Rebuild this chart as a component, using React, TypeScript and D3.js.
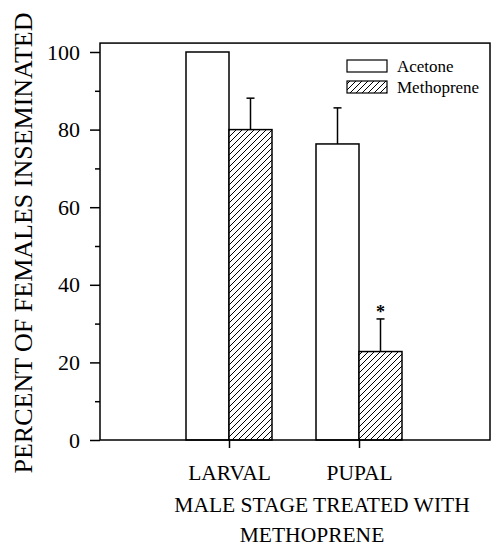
import React, { useEffect, useRef } from 'react';
import * as d3 from 'd3';

// Data
const stages = ['LARVAL', 'PUPAL'];
const treatments = ['Acetone', 'Methoprene'];
const acetoneValues = [100, 76.3];
const acetoneErrors = [0, 9.3];
const methopreneValues = [80, 22.8];
const methopreneErrors = [8.1, 8.4];
const significant = [false, true]; // asterisk over methoprene bar
const yTicks = [0, 20, 40, 60, 80, 100];
const yMinorTicks = [10, 30, 50, 70, 90];

const App: React.FC = () => {
    const ref = useRef<SVGSVGElement>(null);

    useEffect(() => {
        const svg = d3.select(ref.current);
        svg.selectAll('*').remove();

        const width = 498;
        const height = 554;
        const font = '"Liberation Serif", "Times New Roman", serif';

        const left = 100;
        const right = 490;
        const bottom = 440;

        const y = d3.scaleLinear().domain([0, 100]).range([bottom, 52]);
        const top = y(102.3);

        const x0 = d3.scaleBand().domain(stages).range([164, 424]);
        const x1 = d3.scaleBand().domain(treatments).range([-43, 43]);
        const center = (s: string) => (x0(s) as number) + x0.bandwidth() / 2;

        svg.attr('viewBox', [0, 0, width, height]).style('font-family', font);

        // hatch pattern
        const defs = svg.append('defs');
        const pat = defs.append('pattern')
            .attr('id', 'hatch')
            .attr('patternUnits', 'userSpaceOnUse')
            .attr('width', 6)
            .attr('height', 6);
        pat.append('rect').attr('width', 6).attr('height', 6).attr('fill', 'white');
        pat.append('path')
            .attr('d', 'M0,6 L6,0 M-1.5,1.5 L1.5,-1.5 M4.5,7.5 L7.5,4.5')
            .attr('stroke', 'black')
            .attr('stroke-width', 1);

        const rows = stages.map((s, i) => [
            { stage: s, t: 'Acetone', v: acetoneValues[i], e: acetoneErrors[i], sig: false },
            { stage: s, t: 'Methoprene', v: methopreneValues[i], e: methopreneErrors[i], sig: significant[i] },
        ]).flat();

        // bars
        svg.append('g')
            .selectAll('rect')
            .data(rows)
            .join('rect')
            .attr('x', d => center(d.stage) + (x1(d.t) as number))
            .attr('width', x1.bandwidth())
            .attr('y', d => y(d.v))
            .attr('height', d => bottom - y(d.v))
            .attr('fill', d => d.t === 'Acetone' ? 'white' : 'url(#hatch)')
            .attr('stroke', 'black')
            .attr('stroke-width', 1.5);

        // error bars (upper only)
        const err = svg.append('g').attr('stroke', 'black').attr('stroke-width', 1.5);
        rows.filter(d => d.e > 0).forEach(d => {
            const cx = center(d.stage) + (x1(d.t) as number) + x1.bandwidth() / 2;
            err.append('line').attr('x1', cx).attr('x2', cx).attr('y1', y(d.v)).attr('y2', y(d.v + d.e));
            err.append('line').attr('x1', cx - 4).attr('x2', cx + 4).attr('y1', y(d.v + d.e)).attr('y2', y(d.v + d.e));
        });

        // significance marks
        svg.append('g')
            .selectAll('text')
            .data(rows.filter(d => d.sig))
            .join('text')
            .attr('x', d => center(d.stage) + (x1(d.t) as number) + x1.bandwidth() / 2)
            .attr('y', d => y(d.v + d.e) - 1)
            .attr('text-anchor', 'middle')
            .style('font-family', font)
            .style('font-size', '18px')
            .style('font-weight', 'bold')
            .text('*');

        // frame
        svg.append('rect')
            .attr('x', left)
            .attr('y', top)
            .attr('width', right - left)
            .attr('height', bottom - top)
            .attr('fill', 'none')
            .attr('stroke', 'black')
            .attr('stroke-width', 1.5);

        // y axis
        svg.append('g')
            .attr('transform', `translate(${left},0)`)
            .call(d3.axisLeft(y).tickValues(yTicks).tickSize(10).tickPadding(10))
            .call(g => g.select('.domain').remove())
            .call(g => g.selectAll('line').attr('stroke-width', 1.5))
            .call(g => g.selectAll('text')
                .style('font-family', font).style('font-size', '22px').attr('fill', 'black'));

        svg.append('g')
            .attr('transform', `translate(${left},0)`)
            .call(d3.axisLeft(y).tickValues(yMinorTicks).tickSize(5).tickFormat(() => ''))
            .call(g => g.select('.domain').remove())
            .call(g => g.selectAll('line').attr('stroke-width', 1.5));

        // x axis
        svg.append('g')
            .attr('transform', `translate(0,${bottom})`)
            .call(d3.axisBottom(d3.scaleLinear().range([0, 1]))
                .tickValues(stages.map(center) as any)
                .tickSize(8)
                .tickPadding(17)
                .tickFormat((d, i) => stages[i]))
            .call(g => g.select('.domain').remove())
            .call(g => g.selectAll('line').attr('stroke-width', 1.5))
            .call(g => g.selectAll('text')
                .style('font-family', font).style('font-size', '21.5px').attr('fill', 'black'));

        // x title
        svg.append('text')
            .attr('x', 322)
            .attr('y', 512)
            .attr('text-anchor', 'middle')
            .style('font-family', font)
            .style('font-size', '21.5px')
            .text('MALE STAGE TREATED WITH');
        svg.append('text')
            .attr('x', 312)
            .attr('y', 542)
            .attr('text-anchor', 'middle')
            .style('font-family', font)
            .style('font-size', '21.5px')
            .text('METHOPRENE');

        // y title
        svg.append('text')
            .attr('transform', `translate(32,243) rotate(-90)`)
            .attr('text-anchor', 'middle')
            .style('font-family', font)
            .style('font-size', '26px')
            .text('PERCENT OF FEMALES INSEMINATED');

        // legend
        const legend = svg.append('g').attr('transform', 'translate(347,60)');
        treatments.forEach((t, i) => {
            legend.append('rect')
                .attr('x', 0)
                .attr('y', i * 21)
                .attr('width', 40)
                .attr('height', 12)
                .attr('fill', t === 'Acetone' ? 'white' : 'url(#hatch)')
                .attr('stroke', 'black')
                .attr('stroke-width', 1.2);
            legend.append('text')
                .attr('x', 50)
                .attr('y', i * 21 + 12)
                .style('font-family', font)
                .style('font-size', '17px')
                .text(t);
        });
    }, []);

    return (
        <svg ref={ref} width={498} height={554}
            style={{ position: 'absolute', left: 0, top: 0, background: 'white' }} />
    );
};

export default App;
